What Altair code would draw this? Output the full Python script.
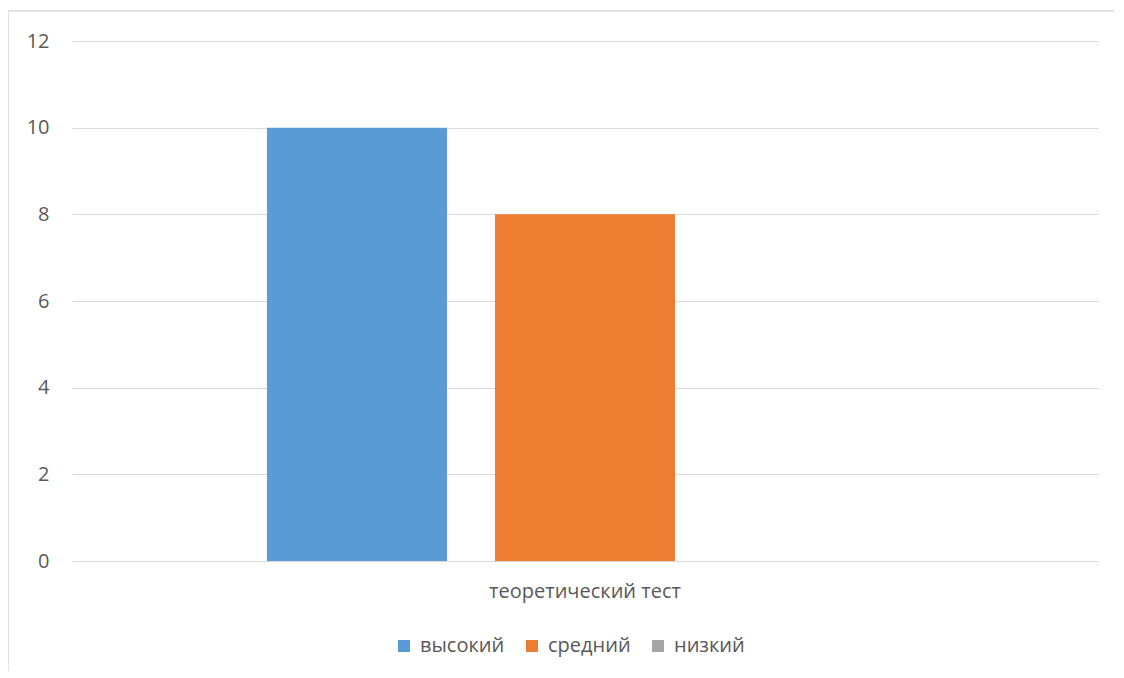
import altair as alt
import pandas as pd

categories = ["теоретический тест"]
series = ["высокий", "средний", "низкий"]
values = [10, 8, 0]
colors = ["#5B9BD5", "#ED7D31", "#A5A5A5"]
y_ticks = [0, 2, 4, 6, 8, 10, 12]

FONT = "Open Sans"
TEXT = "#595959"
GRID = "#D9D9D9"
FS = 20
W, H = 1026, 520

df = pd.DataFrame({
    "category": [categories[0]] * len(series),
    "series": series,
    "value": values,
})

bars = alt.Chart(df).mark_bar().encode(
    x=alt.X(
        "category:N",
        scale=alt.Scale(paddingInner=0, paddingOuter=0),
        axis=alt.Axis(title=None, labelAngle=0, domain=False, ticks=False,
                      grid=False, labelPadding=20, labelFontSize=FS,
                      labelLimit=600, labelColor=TEXT, labelFont=FONT),
    ),
    xOffset=alt.XOffset(
        "series:N", sort=series,
        scale=alt.Scale(domain=series, paddingInner=0.2105, paddingOuter=0.855),
    ),
    y=alt.Y(
        "value:Q",
        scale=alt.Scale(domain=[0, 12], nice=False),
        axis=alt.Axis(title=None, values=y_ticks, domain=False, ticks=False,
                      grid=True, gridColor=GRID, gridWidth=1.2,
                      labelPadding=23, labelFontSize=FS, labelColor=TEXT,
                      labelFont=FONT),
    ),
    color=alt.Color(
        "series:N", sort=series,
        scale=alt.Scale(domain=series, range=colors),
        legend=alt.Legend(orient="none", legendX=322, legendY=595,
                          direction="horizontal", title=None,
                          symbolType="square", symbolSize=144,
                          symbolStrokeWidth=0, labelFontSize=FS,
                          labelColor=TEXT, labelFont=FONT, labelOffset=6,
                          columnPadding=17),
    ),
)

frame_df = pd.DataFrame({"a": [0]})
left_border = alt.Chart(frame_df).mark_rule(color=GRID, strokeWidth=1.5).encode(
    x=alt.value(-64), y=alt.value(-30), y2=alt.value(H + 200)
)
top_border = alt.Chart(frame_df).mark_rule(color=GRID, strokeWidth=1.5).encode(
    x=alt.value(-64), x2=alt.value(W + 100), y=alt.value(-30)
)

chart = alt.layer(bars, left_border, top_border).properties(
    width=W, height=H,
    autosize=alt.AutoSizeParams(type="none"),
    padding={"left": 64, "top": 33, "right": 16, "bottom": 110},
).configure(background="white").configure_view(stroke=None)

chart.save("out.html", embed_options={"renderer": "svg", "actions": False})
